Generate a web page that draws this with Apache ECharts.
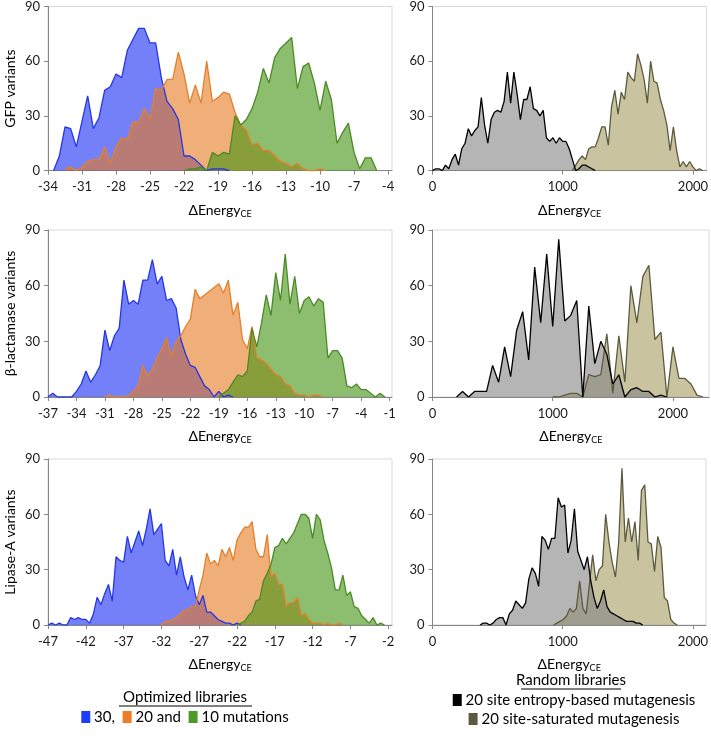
<!DOCTYPE html>
<html>
<head>
<meta charset="utf-8">
<script src="https://cdn.jsdelivr.net/npm/echarts@6/dist/echarts.min.js"></script>
<style>
html, body { margin: 0; padding: 0; background: #fff; }
#chart { width: 711px; height: 740px; }
</style>
</head>
<body>
<div id="chart"></div>
<script>
// ---- optimized libraries (bin width 0.5) ----
const gfp30Start = -33.5
const gfp30 = [0, 8, 24, 23, 13, 27, 41, 23, 29, 44, 46, 53, 51, 66, 72, 78, 78, 70, 70, 51, 38, 34, 28, 8, 8, 6, 3, 0, 1, 1, 1, 0]
const gfp20Start = -32.5
const gfp20 = [1, 2, 0, 2, 5, 6, 6, 13, 4, 13, 18, 17, 27, 26, 34, 28, 45, 44, 50, 50, 65, 53, 37, 47, 37, 60, 38, 40, 43, 42, 32, 25, 22, 14, 15, 11, 11, 8, 5, 4, 2, 4, 1, 0, 0, 1, 0]
const gfp10Start = -22
const gfp10 = [0, 1, 1, 2, 0, 10, 8, 10, 9, 30, 25, 28, 34, 43, 56, 48, 62, 67, 70, 73, 45, 57, 59, 48, 33, 49, 39, 15, 21, 26, 10, 1, 7, 7, 0]

const blac30Start = -37
const blac30 = [0, 2, 0, 0, 0, 0, 3, 7, 14, 8, 12, 17, 36, 25, 33, 37, 63, 50, 52, 50, 63, 63, 74, 61, 65, 52, 53, 48, 31, 23, 17, 16, 11, 6, 4, 0, 3, 0, 1, 0]
const blac20Start = -31
const blac20 = [0, 1, 0, 0, 0, 1, 3, 6, 17, 11, 15, 21, 26, 32, 22, 30, 33, 38, 42, 58, 53, 55, 57, 59, 61, 56, 63, 44, 51, 31, 26, 38, 21, 20, 18, 15, 12, 11, 7, 6, 2, 1, 1, 0, 1, 1, 0]
const blac10Start = -19
const blac10 = [0, 2, 4, 8, 12, 11, 14, 37, 27, 40, 55, 44, 67, 52, 77, 50, 65, 45, 52, 54, 49, 53, 51, 21, 25, 25, 21, 6, 5, 7, 4, 4, 2, 0, 2, 0]

const lip30Start = -47
const lip30 = [0, 1, 0, 1, 0, 0, 4, 3, 4, 3, 3, 1, 6, 15, 11, 17, 22, 13, 37, 35, 34, 48, 39, 45, 51, 43, 52, 63, 49, 52, 55, 35, 32, 41, 27, 37, 26, 19, 27, 16, 11, 16, 7, 7, 5, 3, 2, 1, 1, 0, 1, 0]
const lip20Start = -32
const lip20 = [0, 2, 2, 3, 4, 6, 8, 8, 10, 10, 19, 27, 39, 33, 35, 32, 41, 37, 42, 35, 46, 50, 53, 53, 56, 41, 37, 37, 49, 26, 28, 22, 22, 10, 12, 12, 15, 5, 6, 3, 1, 1, 1, 0, 1, 0, 0, 1, 0]
const lip10Start = -22
const lip10 = [0, 1, 2, 5, 7, 13, 14, 24, 28, 33, 42, 43, 47, 44, 47, 50, 55, 60, 60, 58, 47, 60, 57, 46, 39, 31, 19, 19, 27, 16, 18, 10, 9, 5, 3, 1, 4, 0, 1, 0]

// ---- random libraries ----
const gfpEntropyStart = 0
const gfpEntropyStep = 25
const gfpEntropy = [0, 1, 1, 0, 3, 1, 6, 9, 3, 12, 15, 23, 19, 22, 24, 40, 25, 15, 28, 32, 33, 32, 38, 54, 37, 54, 42, 28, 39, 39, 46, 34, 33, 30, 33, 18, 16, 18, 15, 18, 16, 16, 12, 6, 0, 1, 3, 3, 2, 1, 0]
const gfpSaturatedStart = 1075
const gfpSaturatedStep = 25
const gfpSaturated = [0, 3, 6, 8, 6, 12, 13, 13, 18, 24, 24, 14, 35, 44, 31, 43, 39, 54, 51, 49, 64, 58, 50, 37, 60, 49, 48, 39, 33, 25, 11, 24, 11, 2, 5, 2, 5, 2, 0, 1, 0]

const blacEntropyStart = 200
const blacEntropyStep = 50
const blacEntropy = [0, 3, 0, 3, 3, 3, 17, 8, 27, 11, 36, 46, 20, 70, 40, 77, 38, 85, 41, 44, 52, 0, 49, 18, 30, 23, 7, 12, 0, 4, 5, 3, 3, 0, 1, 0]
const blacSaturatedStart = 1000
const blacSaturatedStep = 50
const blacSaturated = [0, 0, 1, 2, 2, 0, 12, 11, 12, 34, 2, 33, 8, 60, 40, 65, 71, 31, 35, 0, 27, 10, 10, 7, 1, 0]

const lipEntropyStart = 365
const lipEntropyStep = 25
const lipEntropy = [0, 1, 1, 0, 1, 3, 4, 4, 0, 6, 8, 13, 11, 9, 12, 25, 31, 28, 21, 48, 46, 41, 47, 47, 69, 64, 65, 39, 46, 63, 40, 35, 30, 37, 24, 15, 9, 13, 19, 10, 7, 6, 5, 4, 3, 2, 2, 2, 1, 1, 0]
const lipSaturatedStart = 930
const lipSaturatedStep = 25
const lipSaturated = [0, 1, 2, 3, 5, 9, 7, 9, 24, 9, 6, 22, 38, 24, 30, 32, 60, 45, 34, 26, 45, 85, 45, 58, 45, 56, 35, 73, 76, 45, 44, 29, 48, 42, 15, 13, 3, 1, 0]

const optStep = 0.5

// ---- tick labels ----
const gfpTicks = [-34, -31, -28, -25, -22, -19, -16, -13, -10, -7, -4]
const blacTicks = [-37, -34, -31, -28, -25, -22, -19, -16, -13, -10, -7, -4, -1]
const lipTicks = [-47, -42, -37, -32, -27, -22, -17, -12, -7, -2]
const randomTicks = [0, 1000, 2000]
const rowNames = ['GFP variants', 'β-lactamase variants', 'Lipase-A variants']

const FONT = 'Lato, "Liberation Sans", sans-serif'

function hist(start, step, counts) {
  return counts.map((c, i) => [start + i * step, c])
}

let chart = echarts.init(document.getElementById('chart'))

// layout of the six panels
let tops = [3.6, 230, 459]
let heights = [167, 167, 166]
let leftRanges = [[-34, -3.65, gfpTicks], [-37, -0.75, blacTicks], [-47, -1.5, lipTicks]]
let rightMax = [2105, 2300, 2100]

let grids = [], xAxes = [], yAxes = []
for (let r = 0; r < 3; r++) {
  grids.push({ left: 48, top: tops[r], width: 344, height: heights[r] })
  grids.push({ left: 432.5, top: tops[r], width: 276.5, height: heights[r] })
}

function xAxis(gi, min, max, ticks) {
  return {
    type: 'value', gridIndex: gi, min: min, max: max,
    name: '{a|ΔEnergy}{b|CE}', nameLocation: 'middle', nameGap: 31,
    nameTextStyle: {
      color: '#000', fontFamily: FONT,
      rich: {
        a: { fontSize: 14, fontFamily: FONT, color: '#000' },
        b: { fontSize: 9, fontFamily: FONT, color: '#000', padding: [8, 0, 0, 0] }
      }
    },
    axisLine: { onZero: false, lineStyle: { color: '#868686', width: 1 } },
    axisTick: { show: true, length: 4, customValues: ticks, lineStyle: { color: '#868686' } },
    axisLabel: {
      customValues: ticks, margin: 10, color: '#1a1a1a', fontSize: 13, fontFamily: FONT,
      formatter: v => String(v)
    },
    splitLine: { show: false }
  }
}

function yAxis(gi, name) {
  return {
    type: 'value', gridIndex: gi, min: 0, max: 90, interval: 30,
    name: name, nameLocation: 'middle', nameGap: 31,
    nameTextStyle: { color: '#000', fontSize: 14, fontFamily: FONT },
    axisLine: { show: true, lineStyle: { color: '#868686', width: 1 } },
    axisTick: { show: true, length: 4, lineStyle: { color: '#868686' } },
    axisLabel: { margin: 8, color: '#1a1a1a', fontSize: 13, fontFamily: FONT },
    splitLine: { show: false }
  }
}

for (let r = 0; r < 3; r++) {
  let lr = leftRanges[r]
  xAxes.push(xAxis(r * 2, lr[0], lr[1], lr[2]))
  xAxes.push(xAxis(r * 2 + 1, 0, rightMax[r], randomTicks))
  yAxes.push(yAxis(r * 2, rowNames[r]))
  yAxes.push(yAxis(r * 2 + 1, ''))
}

function area(idx, data, line, fill) {
  return {
    type: 'line', xAxisIndex: idx, yAxisIndex: idx, data: data,
    symbol: 'none', smooth: false,
    lineStyle: { color: line, width: 1.3 },
    itemStyle: { color: line },
    areaStyle: { color: fill, opacity: 1 }
  }
}

const C30 = ['#2536e6', 'rgba(23,43,243,0.6)']
const C20 = ['#e5802a', 'rgba(230,120,30,0.6)']
const C10 = ['#4b8a24', 'rgba(65,147,17,0.6)']
const CENT = ['#000000', 'rgba(132,132,132,0.6)']
const CSAT = ['#5c5a3e', 'rgba(165,155,97,0.6)']

let series = [
  area(0, hist(gfp30Start, optStep, gfp30), ...C30),
  area(0, hist(gfp20Start, optStep, gfp20), ...C20),
  area(0, hist(gfp10Start, optStep, gfp10), ...C10),
  area(1, hist(gfpSaturatedStart, gfpSaturatedStep, gfpSaturated), ...CSAT),
  area(1, hist(gfpEntropyStart, gfpEntropyStep, gfpEntropy), ...CENT),

  area(2, hist(blac30Start, optStep, blac30), ...C30),
  area(2, hist(blac20Start, optStep, blac20), ...C20),
  area(2, hist(blac10Start, optStep, blac10), ...C10),
  area(3, hist(blacSaturatedStart, blacSaturatedStep, blacSaturated), ...CSAT),
  area(3, hist(blacEntropyStart, blacEntropyStep, blacEntropy), ...CENT),

  area(4, hist(lip30Start, optStep, lip30), ...C30),
  area(4, hist(lip20Start, optStep, lip20), ...C20),
  area(4, hist(lip10Start, optStep, lip10), ...C10),
  area(5, hist(lipSaturatedStart, lipSaturatedStep, lipSaturated), ...CSAT),
  area(5, hist(lipEntropyStart, lipEntropyStep, lipEntropy), ...CENT)
]

// hand-made legends under the panels
let sq = (c) => ({ backgroundColor: c, width: 9, height: 12 })
let graphic = [
  { type: 'text', x: 185, y: 697, style: { text: 'Optimized libraries', fill: '#000', font: '15px ' + FONT, align: 'center', verticalAlign: 'middle' } },
  { type: 'line', shape: { x1: 119, y1: 706, x2: 252, y2: 706 }, style: { stroke: '#000', lineWidth: 1 } },
  { type: 'text', x: 185, y: 717, style: {
      text: '{b| } 30,  {o| } 20 and  {g| } 10 mutations', fill: '#000', font: '15px ' + FONT,
      align: 'center', verticalAlign: 'middle',
      rich: { b: sq('#1f3cff'), o: sq('#ea7d25'), g: sq('#4c9a29') } } },
  { type: 'text', x: 571, y: 680, style: { text: 'Random libraries', fill: '#000', font: '15px ' + FONT, align: 'center', verticalAlign: 'middle' } },
  { type: 'line', shape: { x1: 521, y1: 689, x2: 621, y2: 689 }, style: { stroke: '#000', lineWidth: 1 } },
  { type: 'text', x: 574, y: 700, style: {
      text: '{k| } 20 site entropy-based mutagenesis', fill: '#000', font: '15px ' + FONT,
      align: 'center', verticalAlign: 'middle', rich: { k: sq('#000000') } } },
  { type: 'text', x: 574, y: 719, style: {
      text: '{t| } 20 site-saturated mutagenesis', fill: '#000', font: '15px ' + FONT,
      align: 'center', verticalAlign: 'middle', rich: { t: sq('#5b5a41') } } }
]

grids.forEach(g => { g.show = true; g.borderColor = '#d9d9d9'; g.borderWidth = 1; g.backgroundColor = 'transparent' })

let chartOpt = {
  animation: false,
  backgroundColor: '#ffffff',
  textStyle: { fontFamily: FONT },
  grid: grids,
  xAxis: xAxes,
  yAxis: yAxes,
  series: series,
  graphic: graphic
}

chart.setOption(chartOpt)
</script>
</body>
</html>
